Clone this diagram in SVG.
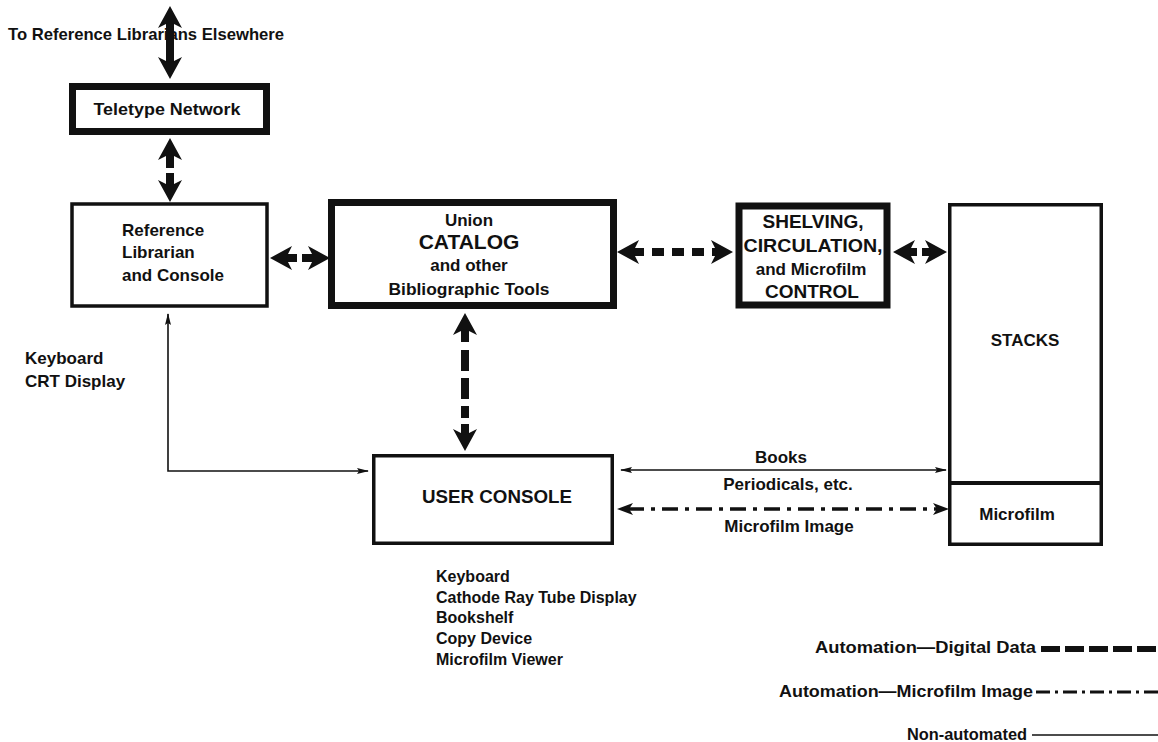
<svg xmlns="http://www.w3.org/2000/svg" width="1158" height="742" viewBox="0 0 1158 742">
<style>
 text { font-family: "Liberation Sans", Arial, sans-serif; font-weight: bold; fill: #111; font-size: 17px; }
 .mid { text-anchor: middle; }
 .end { text-anchor: end; }
 .caps { font-size: 19px; }
 .list { font-size: 16px; }
 .heavy { fill: #fff; stroke: #111; stroke-width: 7; }
 .light { fill: #fff; stroke: #111; stroke-width: 3.5; }
 .dig { stroke: #111; stroke-width: 8; fill: none; }
 .mf { stroke: #111; stroke-width: 3.5; fill: none; stroke-dasharray: 16 7 4 7; }
 .na { stroke: #111; stroke-width: 1.6; fill: none; }
</style>
<defs>
 <marker id="hd" viewBox="0 0 22 24" markerWidth="22" markerHeight="24" refX="7" refY="12" orient="auto-start-reverse" markerUnits="userSpaceOnUse"><path d="M0,0 L22,12 L0,24 L6,12 Z" fill="#111"/></marker>
 <marker id="md" viewBox="0 0 16 12" markerWidth="16" markerHeight="12" refX="5" refY="6" orient="auto-start-reverse" markerUnits="userSpaceOnUse"><path d="M0,0 L16,6 L0,12 L4,6 Z" fill="#111"/></marker>
 <marker id="sm" viewBox="0 0 12 6" markerWidth="12" markerHeight="6" refX="11" refY="3" orient="auto-start-reverse" markerUnits="userSpaceOnUse"><path d="M0,0 L12,3 L0,6 L2,3 Z" fill="#111"/></marker>
</defs>
<rect width="1158" height="742" fill="#fff"/>

<g id="label-elsewhere"><text x="8" y="40" textLength="276" lengthAdjust="spacingAndGlyphs">To Reference Librarians Elsewhere</text></g>

<g id="teletype">
 <rect class="heavy" x="72.5" y="86.5" width="194" height="45"/>
 <text class="mid" x="167" y="115" textLength="147" lengthAdjust="spacingAndGlyphs">Teletype Network</text>
</g>

<g id="reflib">
 <rect class="light" x="72" y="204" width="195" height="102"/>
 <text x="122" y="236">Reference</text>
 <text x="122" y="258">Librarian</text>
 <text x="122" y="281">and Console</text>
</g>

<g id="union">
 <rect class="heavy" x="331.5" y="202.5" width="282" height="103"/>
 <text class="mid" x="469" y="226">Union</text>
 <text class="mid" x="469" y="249" style="font-size:21px">CATALOG</text>
 <text class="mid" x="469" y="271">and other</text>
 <text class="mid" x="469" y="295" textLength="161" lengthAdjust="spacingAndGlyphs">Bibliographic Tools</text>
</g>

<g id="shelving">
 <rect class="heavy" x="739" y="206" width="148" height="99"/>
 <text class="mid caps" x="813" y="228">SHELVING,</text>
 <text class="mid caps" x="813" y="252" textLength="139" lengthAdjust="spacingAndGlyphs">CIRCULATION,</text>
 <text class="mid" x="811" y="275">and Microfilm</text>
 <text class="mid caps" x="812" y="298">CONTROL</text>
</g>

<g id="stacks">
 <rect class="light" x="949.75" y="204.75" width="151.5" height="339.5"/>
 <line x1="950" y1="483" x2="1101" y2="483" stroke="#111" stroke-width="4"/>
 <text class="mid" x="1025" y="346">STACKS</text>
 <text class="mid" x="1017" y="520">Microfilm</text>
</g>

<g id="userconsole">
 <rect class="light" x="373.75" y="455.75" width="238.5" height="87.5"/>
 <text class="mid caps" x="497" y="503" textLength="150" lengthAdjust="spacingAndGlyphs">USER  CONSOLE</text>
</g>

<g id="labels">
 <text x="25" y="364">Keyboard</text>
 <text x="25" y="387">CRT Display</text>
 <text class="mid" x="781" y="463">Books</text>
 <text class="mid" x="788" y="490">Periodicals, etc.</text>
 <text class="mid" x="789" y="532">Microfilm Image</text>
 <text class="list" x="436" y="582">Keyboard</text>
 <text class="list" x="436" y="603">Cathode Ray Tube Display</text>
 <text class="list" x="436" y="623">Bookshelf</text>
 <text class="list" x="436" y="644">Copy Device</text>
 <text class="list" x="436" y="665">Microfilm Viewer</text>
</g>

<g id="connectors">
 <line class="dig" x1="170" y1="21" x2="170" y2="64" marker-start="url(#hd)" marker-end="url(#hd)"/>
 <line class="dig" x1="170" y1="153" x2="170" y2="187" stroke-dasharray="15 5 100" marker-start="url(#hd)" marker-end="url(#hd)"/>
 <line class="dig" x1="285" y1="258" x2="315" y2="258" stroke-dasharray="12 5 100" marker-start="url(#hd)" marker-end="url(#hd)"/>
 <line class="dig" x1="632" y1="252" x2="718" y2="252" stroke-dasharray="12 8" marker-start="url(#hd)" marker-end="url(#hd)"/>
 <line class="dig" x1="908" y1="252" x2="932" y2="252" stroke-dasharray="9 5 100" marker-start="url(#hd)" marker-end="url(#hd)"/>
 <line class="dig" x1="465" y1="328" x2="465" y2="436" stroke-dasharray="14 8 21 7 21 7 12 6 40" marker-start="url(#hd)" marker-end="url(#hd)"/>
 <path class="na" d="M168,314 L168,471 L368,471" marker-start="url(#sm)" marker-end="url(#sm)"/>
 <line class="na" x1="621" y1="470" x2="946" y2="470" marker-start="url(#sm)" marker-end="url(#sm)"/>
 <line class="mf" x1="628" y1="509" x2="938" y2="509" marker-start="url(#md)" marker-end="url(#md)"/>
</g>

<g id="legend">
 <text class="end" x="1036" y="653" textLength="221" lengthAdjust="spacingAndGlyphs">Automation—Digital Data</text>
 <line x1="1041" y1="649" x2="1158" y2="649" stroke="#111" stroke-width="6" stroke-dasharray="19 5"/>
 <text class="end" x="1033" y="697" textLength="254" lengthAdjust="spacingAndGlyphs">Automation—Microfilm Image</text>
 <line x1="1036" y1="692" x2="1158" y2="692" stroke="#111" stroke-width="3" stroke-dasharray="14 5 3 5"/>
 <text class="end" x="1027" y="740" textLength="120" lengthAdjust="spacingAndGlyphs">Non-automated</text>
 <line class="na" x1="1032" y1="735" x2="1158" y2="735"/>
</g>
</svg>
